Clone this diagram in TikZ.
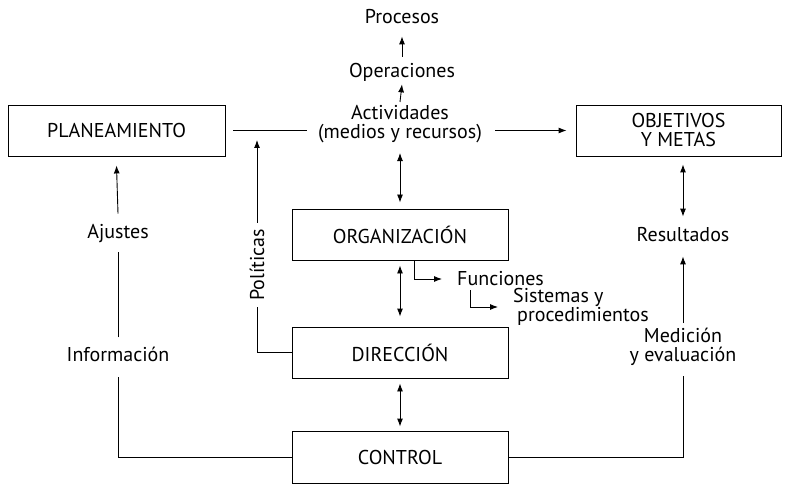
\documentclass[tikz,border=0pt]{standalone}
\usepackage{fontspec}
\setmainfont{PT Sans}
\usetikzlibrary{arrows.meta}
\begin{document}
\begin{tikzpicture}[x=1pt,y=-1pt,
  every node/.style={font=\fontsize{20}{19}\selectfont, inner sep=0pt},
  box/.style={draw, line width=0.9pt, minimum width=216pt, minimum height=51pt},
  conn/.style={line width=0.9pt},
  arr/.style={conn, -{Latex[length=8pt,width=6pt]}},
  darr/.style={conn, {Latex[length=8pt,width=6pt]}-{Latex[length=8pt,width=6pt]}}]
\useasboundingbox (0,0) rectangle (785,484);
% boxes
\node[box, minimum width=217pt] (plan) at (116.5,130.5) {PLANEAMIENTO};
\node[box, minimum width=205pt, align=center] (obj) at (678.5,130.5) {OBJETIVOS\\Y METAS};
\node[box] (org) at (400,234.5) {ORGANIZACIÓN};
\node[box] (dir) at (400,352.5) {DIRECCIÓN};
\node[box, minimum height=52pt] (ctrl) at (400,457) {CONTROL};
% labels
\node (proc) at (402,17) {Procesos};
\node (oper) at (402,72) {Operaciones};
\node[align=center] (act) at (400,124) {Actividades\\(medios y recursos)};
\node (ajus) at (118,234) {Ajustes};
\node (info) at (118,354) {Información};
\node[rotate=90] (pol) at (257,265) {Políticas};
\node (res) at (683,235) {Resultados};
\node[align=center] (med) at (683,347) {Medición\\y evaluación};
\node[anchor=west] (func) at (457,279) {Funciones};
\node[anchor=west, align=left] (sis) at (513,307) {Sistemas y\\\hspace*{4pt}procedimientos};
\coordinate (poltip) at (257,140);
% connectors
\draw[conn] ([xshift=8pt]plan.east) -- ([xshift=-11pt]act.west |- plan.east);
\draw[arr] ([xshift=13pt]act.east |- obj.west) -- ([xshift=-9pt]obj.west);
\draw[arr] ([yshift=6pt]oper.north) -- ([yshift=-12pt]proc.south);
\draw[arr] ([yshift=3pt]act.north) -- ([yshift=-3pt]oper.south);
\draw[darr, shorten <=10pt, shorten >=6pt] (act.south -| org.north) -- (org.north);
\draw[darr, shorten <=5pt, shorten >=10pt] (org.south) -- (dir.north);
\draw[darr, shorten <=5pt, shorten >=4pt] (dir.south) -- (ctrl.north);
% left loop
\draw[conn] (ctrl.west) -| ([yshift=-15pt]info.south);
\draw[conn] ([yshift=9pt]info.north) -- ([yshift=-9pt]ajus.south);
\draw[arr] ([yshift=11pt]ajus.north) -- ([yshift=-9pt]plan.south);
% politicas
\draw[conn] (dir.west) -| ([yshift=-6pt]pol.west);
\draw[arr] ([yshift=6pt]pol.east) -- (poltip);
% right loop
\draw[conn] (ctrl.east) -| ([yshift=-10pt]med.south);
\draw[arr] ([yshift=5pt]med.north) -- ([yshift=-14pt]res.south);
\draw[darr, shorten <=8pt, shorten >=11pt] (obj.south -| res.north) -- (res.north);
% funciones
\draw[arr, shorten >=15pt] ([xshift=14pt]org.south) |- (func.west);
\draw[arr, shorten >=15pt] ([xshift=13pt,yshift=-4pt]func.south west) |- (sis.west);
\end{tikzpicture}
\end{document}
